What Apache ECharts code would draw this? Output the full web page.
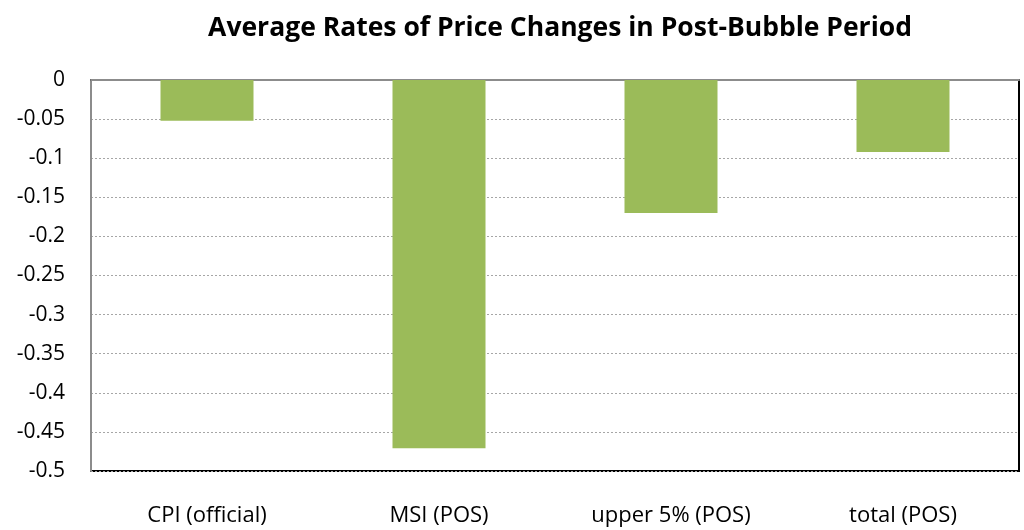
<!DOCTYPE html>
<html>
<head>
<meta charset="utf-8">
<script src="https://cdn.jsdelivr.net/npm/echarts@6/dist/echarts.min.js"></script>
<style>
  html, body { margin: 0; padding: 0; background: #fff; }
  #chart { width: 1024px; height: 530px; }
</style>
</head>
<body>
<div id="chart"></div>
<script>
  const categories = ['CPI (official)', 'MSI (POS)', 'upper 5% (POS)', 'total (POS)']
  const rates = [-0.052, -0.471, -0.170, -0.092]

  const chart = echarts.init(document.getElementById('chart'))
  const font = 'Open Sans'
  const option = {
    animation: false,
    backgroundColor: '#ffffff',
    title: {
      text: 'Average Rates of Price Changes in Post-Bubble Period',
      left: 555,
      top: 10,
      textAlign: 'center',
      textStyle: {
        fontFamily: font,
        fontWeight: 'bold',
        fontSize: 26.5,
        color: '#000'
      }
    },
    grid: {
      left: 91,
      right: 5,
      top: 80,
      bottom: 59,
      show: true,
      borderColor: '#000',
      borderWidth: 2
    },
    xAxis: [{
      type: 'category',
      data: categories,
      position: 'bottom',
      axisLine: { show: true, lineStyle: { color: '#000', width: 2 } },
      axisTick: { show: false },
      axisLabel: { color: '#000', fontFamily: font, fontSize: 22, margin: 34 }
    }, {
      // 0 线在顶部，灰色
      type: 'category',
      data: categories,
      position: 'top',
      axisLine: { show: true, lineStyle: { color: '#8c8c8c', width: 2 } },
      axisTick: { show: false },
      axisLabel: { show: false }
    }],
    yAxis: {
      type: 'value',
      min: -0.5,
      max: 0,
      interval: 0.05,
      axisLine: { show: true, lineStyle: { color: '#8c8c8c', width: 2 } },
      axisTick: { show: false },
      axisLabel: {
        color: '#000',
        fontFamily: font,
        fontSize: 21,
        margin: 26,
        formatter: v => String(Math.round(v * 100) / 100)
      },
      splitLine: {
        show: true,
        lineStyle: { color: '#a6a6a6', type: [2, 2], width: 1 }
      }
    },
    series: [{
      type: 'bar',
      data: rates,
      barWidth: 93,
      itemStyle: { color: '#9bbb59' }
    }]
  }
  chart.setOption(option)
</script>
</body>
</html>
